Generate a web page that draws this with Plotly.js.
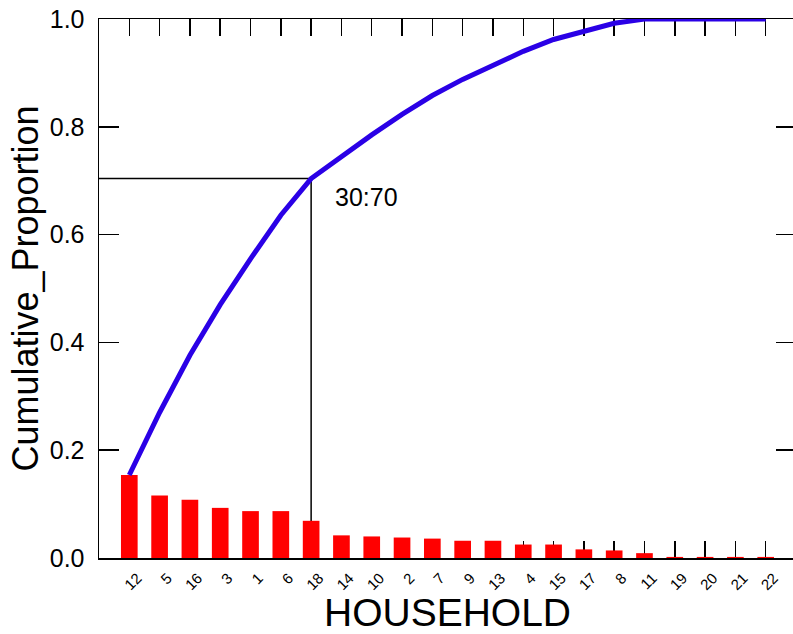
<!DOCTYPE html>
<html>
<head>
<meta charset="utf-8">
<script src="https://cdn.plot.ly/plotly-3.0.1.min.js"></script>
<style>
  html, body { margin: 0; padding: 0; overflow: hidden; background: #fff; }
  #chart { width: 797px; height: 634px; }
</style>
</head>
<body>
<div id="chart"></div>
<script>
// Household identifiers, ordered by descending share
const households = ['12','5','16','3','1','6','18','14','10','2','7','9','13','4','15','17','8','11','19','20','21','22'];
// Individual proportion per household (bars)
const proportion = [0.154,0.116,0.108,0.093,0.087,0.087,0.069,0.042,0.040,0.038,0.036,0.032,0.032,0.025,0.025,0.016,0.014,0.009,0.002,0.002,0.002,0.002];
// Cumulative proportion (line)
const cumulative = [0.154,0.270,0.376,0.470,0.555,0.636,0.704,0.745,0.785,0.823,0.858,0.888,0.915,0.940,0.962,0.978,0.992,1.000,1.000,1.000,1.000,1.000];
const cutLabel = '18';
const cutText = '30:70';

const cutIdx = households.indexOf(cutLabel);
const cutY = cumulative[cutIdx];

const font = "'Liberation Sans', Arial, sans-serif";

const data = [
  {
    type: 'bar',
    x: households,
    y: proportion,
    marker: { color: '#ff0000', line: { width: 0 } },
    width: 0.55,
    hoverinfo: 'x+y'
  },
  {
    type: 'scatter',
    mode: 'lines',
    x: households,
    y: cumulative,
    line: { color: '#2a00e6', width: 5 },
    hoverinfo: 'x+y'
  }
];

const layout = {
  width: 797,
  height: 634,
  margin: { l: 99, r: 1, t: 19, b: 76 },
  paper_bgcolor: '#ffffff',
  plot_bgcolor: '#ffffff',
  showlegend: false,
  font: { family: font, color: '#000000' },
  xaxis: {
    type: 'category',
    categoryorder: 'array',
    categoryarray: households,
    range: [-1, households.length],
    showgrid: false,
    zeroline: false,
    showline: true,
    linecolor: '#000000',
    linewidth: 1.5,
    mirror: 'ticks',
    ticks: 'inside',
    ticklen: 17,
    tickwidth: 1.5,
    tickcolor: '#000000',
    tickangle: -45,
    tickfont: { family: font, size: 15, color: '#000000' },
    ticklabelshift: 8,
    ticklabelstandoff: 4,
    layer: 'below traces',
    automargin: false,
    title: { text: 'HOUSEHOLD', font: { family: font, size: 39, color: '#000000' }, standoff: 3 }
  },
  yaxis: {
    range: [0, 1],
    dtick: 0.2,
    tick0: 0,
    tickformat: '.1f',
    showgrid: false,
    zeroline: false,
    showline: true,
    linecolor: '#000000',
    linewidth: 1.5,
    mirror: 'ticks',
    ticks: 'inside',
    ticklen: 20,
    tickwidth: 1.5,
    tickcolor: '#000000',
    tickfont: { family: font, size: 25, color: '#000000' },
    ticklabelstandoff: 8,
    automargin: false,
    title: { text: 'Cumulative_Proportion', font: { family: font, size: 36, color: '#000000' }, standoff: 0 }
  },
  shapes: [
    { type: 'line', layer: 'below', xref: 'x', yref: 'y',
      x0: -1, x1: cutIdx, y0: cutY, y1: cutY,
      line: { color: '#000000', width: 1.5 } },
    { type: 'line', layer: 'below', xref: 'x', yref: 'y',
      x0: cutIdx, x1: cutIdx, y0: 0, y1: cutY,
      line: { color: '#000000', width: 1.5 } }
  ],
  annotations: [
    { xref: 'x', yref: 'y', x: cutIdx + 0.72, y: cutY - 0.035,
      text: cutText, showarrow: false, xanchor: 'left', yanchor: 'middle',
      font: { family: font, size: 25, color: '#000000' } }
  ]
};

Plotly.newPlot('chart', data, layout, { staticPlot: true, displayModeBar: false });
</script>
</body>
</html>
